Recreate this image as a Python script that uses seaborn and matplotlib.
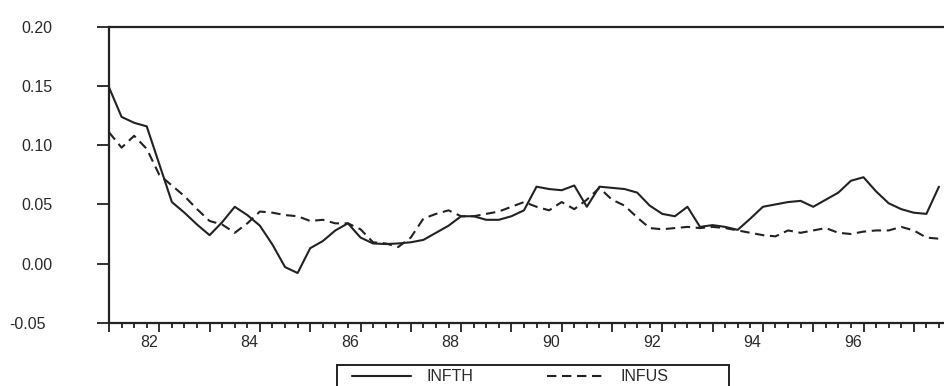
import numpy as np
import pandas as pd
import seaborn as sns
import matplotlib
matplotlib.use('Agg')
import matplotlib.pyplot as plt
import matplotlib.patches as mpatches
from matplotlib.transforms import ScaledTranslation

# Quarterly series, 1981Q1 onwards
start_year = 1981
infth = [0.149, 0.124, 0.119, 0.116, 0.084, 0.052, 0.043, 0.033, 0.024, 0.035,
         0.048, 0.041, 0.032, 0.016, -0.003, -0.008, 0.013, 0.019, 0.028, 0.034,
         0.022, 0.017, 0.0165, 0.017, 0.018, 0.020, 0.026, 0.032, 0.040, 0.040,
         0.037, 0.037, 0.040, 0.045, 0.065, 0.063, 0.062, 0.066, 0.048, 0.065,
         0.064, 0.063, 0.060, 0.049, 0.042, 0.040, 0.048, 0.031, 0.0325, 0.031,
         0.0285, 0.038, 0.048, 0.050, 0.052, 0.053, 0.048, 0.054, 0.060, 0.070,
         0.073, 0.061, 0.051, 0.046, 0.043, 0.042, 0.065]
infus = [0.111, 0.098, 0.108, 0.097, 0.075, 0.066, 0.057, 0.046, 0.036, 0.033,
         0.026, 0.034, 0.044, 0.043, 0.041, 0.040, 0.036, 0.037, 0.034, 0.034,
         0.029, 0.018, 0.017, 0.014, 0.022, 0.038, 0.042, 0.045, 0.040, 0.040,
         0.042, 0.044, 0.048, 0.052, 0.048, 0.045, 0.052, 0.046, 0.054, 0.064,
         0.054, 0.049, 0.039, 0.030, 0.029, 0.030, 0.031, 0.030, 0.031, 0.030,
         0.028, 0.026, 0.024, 0.023, 0.028, 0.026, 0.028, 0.030, 0.026, 0.025,
         0.027, 0.028, 0.028, 0.031, 0.028, 0.022, 0.021]
y_ticks = [-0.05, 0.00, 0.05, 0.10, 0.15, 0.20]
label_years = [1982, 1984, 1986, 1988, 1990, 1992, 1994, 1996]

t = start_year + np.arange(len(infth)) / 4.0
df = pd.DataFrame({"t": t, "INFTH": infth, "INFUS": infus})

sns.set_style("ticks")
plt.rcParams['font.family'] = ['Liberation Sans', 'DejaVu Sans']

ink = '#222222'
txt = '#2a2a2a'
fs = 11.5
fig = plt.figure(figsize=(9.44, 3.86), dpi=100)
# axes runs past the right edge of the picture, like the cropped original
ax = fig.add_axes([109 / 944, 63.3 / 386, 17 * 50.3 / 944, 295.7 / 386])

sns.lineplot(data=df, x="t", y="INFTH", ax=ax, color=ink, lw=1.5, label="INFTH", legend=False)
sns.lineplot(data=df, x="t", y="INFUS", ax=ax, color=ink, lw=1.5, label="INFUS",
             linestyle=(0, (4.5, 2.7)), legend=False)

ax.set_xlim(1981, 1998)
ax.set_ylim(-0.05, 0.20)
ax.set_xlabel("")
ax.set_ylabel("")

ax.set_yticks(y_ticks)
ax.set_yticklabels([f"{v:.2f}" for v in y_ticks])
ax.set_xticks(np.arange(1981, 1999), labels=[])
ax.set_xticks(np.arange(1981, 1998.01, 0.25), minor=True)
ax.tick_params(axis='y', direction='out', length=9, width=1.3, pad=32,
               labelsize=fs, labelcolor=txt, color=ink)
ax.tick_params(axis='x', which='major', direction='out', length=6.5, width=1.3, color=ink)
ax.tick_params(axis='x', which='minor', direction='out', length=3.5, width=1.3, color=ink)

# year labels sit a little left of the year tick
for yr in label_years:
    ax.text(yr - 0.21, -0.05, str(yr)[2:], ha='center', va='top',
            fontsize=fs, color=txt,
            ).set_transform(ax.transData + ScaledTranslation(0, -9 / 72, fig.dpi_scale_trans))

lab = ax.get_yticklabels()[0]
lab.set_transform(lab.get_transform() + ScaledTranslation(-6 / 100, 0, fig.dpi_scale_trans))

for side in ['left', 'bottom', 'top']:
    ax.spines[side].set_linewidth(1.6)
    ax.spines[side].set_color(ink)
ax.spines['right'].set_visible(False)

# legend box, cut off by the bottom edge like in the reference
fig.patches.append(mpatches.Rectangle((337 / 944, -10 / 386), 392 / 944, 31 / 386,
                                      transform=fig.transFigure, fill=False,
                                      edgecolor=ink, lw=1.4))
handles, labels = ax.get_legend_handles_labels()
fig.legend(handles, labels, loc='center left', bbox_to_anchor=(352 / 944, 1 - 376.7 / 386),
           ncol=2, frameon=False, fontsize=fs, handlelength=3.7, handletextpad=0.95,
           columnspacing=4.6, borderpad=0, borderaxespad=0, labelcolor=txt)

fig.savefig("out.png", dpi=100)
